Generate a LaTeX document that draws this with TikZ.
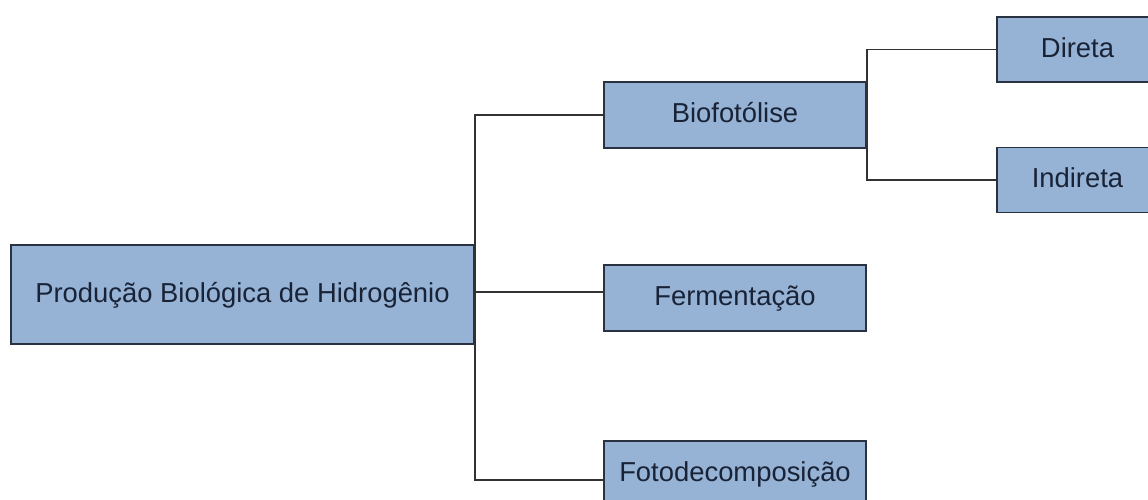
\documentclass[tikz,border=0pt]{standalone}
\usepackage{fontspec}
\setmainfont{Liberation Sans}
\definecolor{boxfill}{RGB}{150,178,212}
\definecolor{boxline}{RGB}{40,50,65}
\definecolor{txt}{RGB}{25,35,55}
\definecolor{conn}{RGB}{50,50,50}
\begin{document}
\begin{tikzpicture}[x=1pt,y=-1pt,
  blk/.style={draw=boxline,line width=1.5pt,fill=boxfill,text=txt,inner sep=0pt,
    font=\fontsize{27.4}{30}\selectfont,text height=19.6pt,text depth=4pt},
  link/.style={draw=conn,line width=1.6pt}]
\useasboundingbox (0,0) rectangle (1148,500);
\clip (0,0) rectangle (1148,500);
\fill[white] (0,0) rectangle (1148,500);
\node[blk,minimum width=463pt,minimum height=99pt] (root) at (242.5,294.5) {Produção Biológica de Hidrogênio};
\node[blk,minimum width=262pt,minimum height=66pt] (bio) at (735,115) {Biofotólise};
\node[blk,minimum width=262pt,minimum height=66pt] (ferm) at (735,298) {Fermentação};
\node[blk,minimum width=262pt,minimum height=66pt] (foto) at (735,474) {Fotodecomposição};
\node[blk,minimum width=161pt,minimum height=65pt] (dir) at (1077.5,49.5) {Direta};
\node[blk,minimum width=161pt,minimum height=65pt] (ind) at (1077.5,180) {Indireta};
\coordinate (fotoin) at ([yshift=-6pt]foto.west);
\coordinate (fermout) at ([yshift=2.5pt]root.east);
\begin{scope}[on background layer/.style={}]
\draw[link] (bio.west) -| (root.east);
\draw[link] (fotoin) -| (root.east);
\draw[link] (fermout) -- (ferm.west |- fermout);
\draw[link] (dir.west) -| (bio.east);
\draw[link] (ind.west) -| (bio.east);
\end{scope}
\end{tikzpicture}
\end{document}
